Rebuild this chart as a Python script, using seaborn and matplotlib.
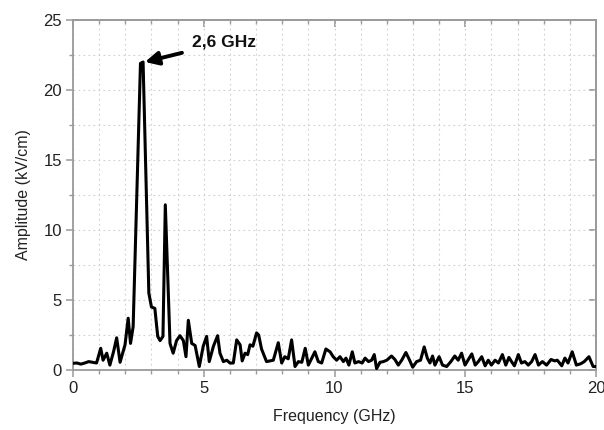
import matplotlib
matplotlib.use("Agg")
import matplotlib.pyplot as plt
import seaborn as sns
import pandas as pd
from matplotlib.ticker import MultipleLocator

freq_ghz = [0.0, 0.15, 0.3, 0.45, 0.6, 0.75, 0.9, 1.06, 1.15, 1.29, 1.41, 1.55, 1.67, 1.8, 1.99,
            2.11, 2.2, 2.3, 2.58, 2.68, 2.9, 3.0, 3.13, 3.24, 3.33, 3.44, 3.53, 3.71, 3.83, 3.96,
            4.09, 4.22, 4.32, 4.41, 4.54, 4.67, 4.83, 4.98, 5.11, 5.21, 5.37, 5.53, 5.62, 5.75,
            5.88, 6.0, 6.13, 6.26, 6.39, 6.47, 6.58, 6.68, 6.77, 6.88, 7.02, 7.1, 7.21, 7.4, 7.66,
            7.85, 7.98, 8.1, 8.23, 8.36, 8.49, 8.62, 8.75, 8.88, 9.0, 9.13, 9.25, 9.38, 9.51, 9.67,
            9.83, 9.95, 10.08, 10.21, 10.34, 10.44, 10.55, 10.68, 10.78, 10.92, 11.06, 11.17, 11.3,
            11.42, 11.52, 11.61, 11.74, 11.87, 12.0, 12.18, 12.31, 12.44, 12.57, 12.73, 12.86,
            12.99, 13.14, 13.29, 13.43, 13.55, 13.65, 13.75, 13.84, 14.0, 14.13, 14.29, 14.45,
            14.6, 14.73, 14.86, 14.99, 15.12, 15.25, 15.38, 15.5, 15.63, 15.76, 15.88, 16.0,
            16.14, 16.27, 16.42, 16.55, 16.67, 16.77, 16.88, 17.03, 17.15, 17.28, 17.41, 17.54,
            17.67, 17.8, 17.95, 18.11, 18.28, 18.42, 18.52, 18.69, 18.81, 18.93, 19.09, 19.25,
            19.42, 19.55, 19.73, 19.89, 20.0]
amplitude = [0.48, 0.5, 0.42, 0.5, 0.6, 0.55, 0.5, 1.55, 0.7, 1.2, 0.35, 1.3, 2.3, 0.55, 1.8,
             3.7, 1.9, 3.1, 21.9, 22.0, 5.5, 4.5, 4.4, 2.4, 2.1, 2.4, 11.8, 1.9, 1.2, 2.1,
             2.45, 2.1, 0.95, 3.55, 1.9, 1.75, 0.25, 1.7, 2.4, 0.6, 1.7, 2.45, 1.2, 0.6,
             0.7, 0.5, 0.5, 2.15, 1.8, 0.65, 1.2, 1.1, 1.8, 1.7, 2.65, 2.5, 1.5, 0.6, 0.7,
             1.95, 0.5, 0.95, 0.8, 2.15, 0.25, 0.6, 0.55, 1.55, 0.35, 0.85, 1.3, 0.6, 0.5, 1.5,
             1.3, 0.95, 0.7, 0.95, 0.6, 0.85, 0.35, 1.3, 0.5, 0.6, 0.5, 0.85, 0.6,
             0.7, 1.1, 0.1, 0.55, 0.6, 0.7, 1.0, 0.75, 0.35, 0.7, 1.25, 0.75,
             0.2, 0.6, 0.7, 1.65, 0.85, 0.5, 1.0, 0.35, 0.95, 0.35, 0.25, 0.6,
             1.0, 0.7, 1.2, 0.35, 0.75, 1.15, 0.35, 0.6, 0.95, 0.3, 0.7, 0.35,
             0.7, 0.5, 1.1, 0.35, 0.9, 0.6, 0.3, 1.1, 0.5, 0.6, 0.35, 0.6,
             1.1, 0.35, 0.6, 0.35, 0.75, 0.65, 0.7, 0.3, 0.85, 0.5, 1.3, 0.35,
             0.45, 0.6, 0.95, 0.25, 0.25]

x_ticks = [0, 5, 10, 15, 20]
y_ticks = [0, 5, 10, 15, 20, 25]
peak_label = "2,6 GHz"
peak_freq = 2.75
peak_amp = 22.0

df = pd.DataFrame({"Frequency (GHz)": freq_ghz, "Amplitude (kV/cm)": amplitude})

sns.set_theme(style="white")
plt.rcParams["font.family"] = ["Liberation Sans", "DejaVu Sans"]

fig = plt.figure(figsize=(6.04, 4.30), dpi=100)
ax = fig.add_axes([73 / 604, 1 - 370 / 430, (596 - 73) / 604, (370 - 20) / 430])

sns.lineplot(data=df, x="Frequency (GHz)", y="Amplitude (kV/cm)", ax=ax,
             color="black", linewidth=2.2, sort=False, estimator=None, zorder=3)

ax.set_xlim(0, 20)
ax.set_ylim(0, 25)
ax.set_xticks(x_ticks)
ax.set_yticks(y_ticks)
ax.xaxis.set_minor_locator(MultipleLocator(1))
ax.yaxis.set_minor_locator(MultipleLocator(2.5))

grid_kw = dict(color="#cfcfcf", linewidth=0.8, linestyle=(0, (1.5, 3)))
ax.grid(True, which="both", **grid_kw)
ax.set_axisbelow(True)

for s in ax.spines.values():
    s.set_color("#9a9a9a")
    s.set_linewidth(1.3)

ax.tick_params(which="major", direction="out", length=5, width=1.1, color="#9a9a9a",
               labelsize=12, labelcolor="#222222", pad=3)
ax.tick_params(which="minor", direction="out", length=3, width=1.0, color="#9a9a9a")
ax.tick_params(bottom=True, left=True, which="both")

ax.set_xlabel("Frequency (GHz)", fontsize=11.5, color="#222222", labelpad=9)
ax.set_ylabel("Amplitude (kV/cm)", fontsize=11.5, color="#222222", labelpad=9)

# mirrored inward ticks on top and right
secx = ax.secondary_xaxis("top")
secx.set_xticks(x_ticks)
secx.xaxis.set_minor_locator(MultipleLocator(1))
secx.tick_params(which="both", direction="in", labeltop=False, color="#9a9a9a")
secx.tick_params(which="major", length=5)
secx.tick_params(which="minor", length=3)
secx.spines["top"].set_color("#9a9a9a")
secy = ax.secondary_yaxis("right")
secy.set_yticks(y_ticks)
secy.yaxis.set_minor_locator(MultipleLocator(2.5))
secy.tick_params(which="both", direction="in", labelright=False, color="#9a9a9a")
secy.tick_params(which="major", length=5)
secy.tick_params(which="minor", length=3)
secy.spines["right"].set_color("#9a9a9a")

ax.annotate(peak_label, xy=(peak_freq, peak_amp), xytext=(4.55, 23.4),
            fontsize=12.5, fontweight="bold", color="#111111", ha="left", va="center",
            arrowprops=dict(arrowstyle="-|>", color="black", lw=2.8,
                            mutation_scale=20, shrinkA=5, shrinkB=0))

fig.savefig("out.png", dpi=100)
